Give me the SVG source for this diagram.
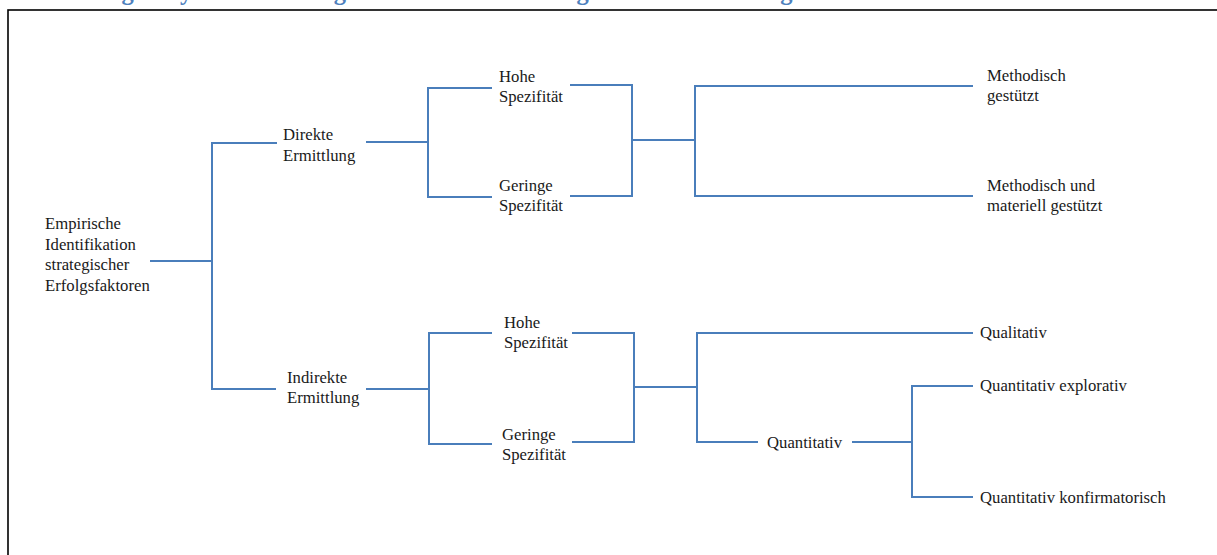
<svg xmlns="http://www.w3.org/2000/svg" width="1217" height="555" viewBox="0 0 1217 555">
  <style>
    .caption { font-family: "Liberation Serif", "Times New Roman", serif; font-weight: bold; font-size: 24.5px; fill: #4F81BD; }
    .lbl { font-family: "Liberation Serif", "Times New Roman", serif; font-size: 16.7px; fill: #1a1a1a; }
    .link { fill: none; stroke: #4A7EBB; stroke-width: 2; }
    .frame { fill: none; stroke: #000; stroke-width: 1.6; }
  </style>
  <rect width="1217" height="555" fill="#ffffff"/>

  <!-- caption, running off the top edge -->
  <text class="caption" x="22" y="-0.5">Abbildung 3: Systematisierung der Ansätze der Erfolgsfaktorenforschung</text>

  <!-- outer frame -->
  <rect class="frame" x="8" y="10" width="1240" height="570"/>

  <!-- connectors -->
  <g id="connectors">
    <path class="link" d="M150,261 H212"/>
    <path class="link" d="M277,143 H212 V389 H276"/>
    <!-- direct branch -->
    <path class="link" d="M366,142 H428"/>
    <path class="link" d="M492,88 H428 V197 H492"/>
    <path class="link" d="M570,85 H632 V196 H570"/>
    <path class="link" d="M632,140 H695"/>
    <path class="link" d="M973,86 H695 V196 H973"/>
    <!-- indirect branch -->
    <path class="link" d="M366,389 H429"/>
    <path class="link" d="M492,333 H429 V444 H492"/>
    <path class="link" d="M572,333 H634 V442 H572"/>
    <path class="link" d="M634,387 H697"/>
    <path class="link" d="M973,333 H697 V442 H758"/>
    <path class="link" d="M852,442 H912"/>
    <path class="link" d="M973,386 H912 V497 H973"/>
  </g>

  <!-- nodes -->
  <g id="root">
    <text class="lbl" x="45" y="229">Empirische</text>
    <text class="lbl" x="45" y="250">Identifikation</text>
    <text class="lbl" x="45" y="270">strategischer</text>
    <text class="lbl" x="45" y="291">Erfolgsfaktoren</text>
  </g>
  <g id="direkt">
    <text class="lbl" x="283" y="140">Direkte</text>
    <text class="lbl" x="283" y="161">Ermittlung</text>
  </g>
  <g id="direkt-hoch">
    <text class="lbl" x="499" y="82">Hohe</text>
    <text class="lbl" x="499" y="102">Spezifität</text>
  </g>
  <g id="direkt-gering">
    <text class="lbl" x="499" y="191">Geringe</text>
    <text class="lbl" x="499" y="211">Spezifität</text>
  </g>
  <g id="methodisch">
    <text class="lbl" x="987" y="81">Methodisch</text>
    <text class="lbl" x="987" y="101">gestützt</text>
  </g>
  <g id="methodisch-materiell">
    <text class="lbl" x="987" y="191">Methodisch und</text>
    <text class="lbl" x="987" y="211">materiell gestützt</text>
  </g>
  <g id="indirekt">
    <text class="lbl" x="287" y="383">Indirekte</text>
    <text class="lbl" x="287" y="403">Ermittlung</text>
  </g>
  <g id="indirekt-hoch">
    <text class="lbl" x="504" y="328">Hohe</text>
    <text class="lbl" x="504" y="348">Spezifität</text>
  </g>
  <g id="indirekt-gering">
    <text class="lbl" x="502" y="440">Geringe</text>
    <text class="lbl" x="502" y="460">Spezifität</text>
  </g>
  <g id="qualitativ">
    <text class="lbl" x="980" y="338">Qualitativ</text>
  </g>
  <g id="quantitativ">
    <text class="lbl" x="767" y="448">Quantitativ</text>
  </g>
  <g id="quantitativ-explorativ">
    <text class="lbl" x="980" y="391">Quantitativ explorativ</text>
  </g>
  <g id="quantitativ-konfirmatorisch">
    <text class="lbl" x="980" y="503">Quantitativ konfirmatorisch</text>
  </g>
</svg>
